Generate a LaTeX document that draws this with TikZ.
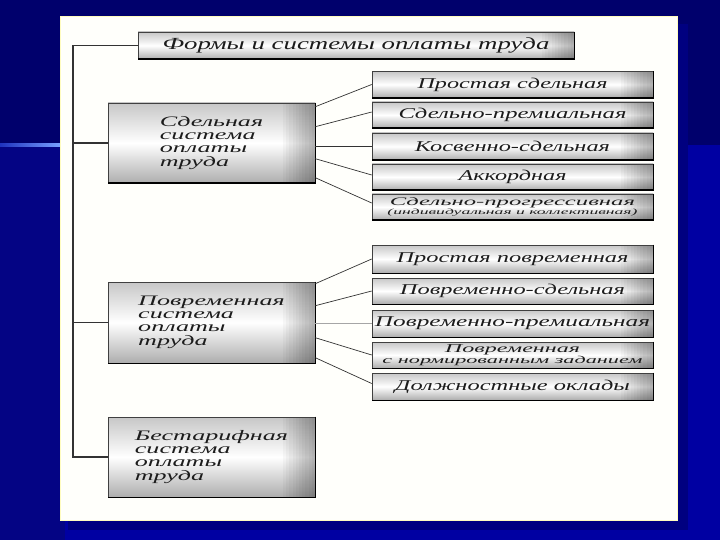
\documentclass[tikz,border=0pt]{standalone}
\usepackage{fontspec}
\setmainfont{Liberation Serif}
\usetikzlibrary{calc}
\definecolor{navytop}{RGB}{0,0,108}
\definecolor{navyleft}{RGB}{4,4,132}
\definecolor{bluebg}{RGB}{0,0,162}
\definecolor{streakL}{RGB}{30,50,190}
\definecolor{streakR}{RGB}{120,160,255}
\definecolor{panelc}{RGB}{255,255,251}
\definecolor{panelshadow}{RGB}{0,0,128}
\definecolor{ink}{RGB}{28,28,28}
\newcommand{\fitw}[2]{\resizebox{#1pt}{\height}{#2}}
\newcommand{\lefttext}[1]{\scalebox{1.8}[1]{\fontsize{14.5}{13}\selectfont\begin{tabular}{@{}l@{}}#1\end{tabular}}}
\tikzset{
  boxs/.style={draw=black!75, line width=0.6pt, top color=black!22, bottom color=black!32,
    middle color=white, inner sep=0pt, text=ink, align=center,
    font=\itshape\fontsize{15}{15}\selectfont,
    path picture={\foreach \k in {1,...,10}{
      \fill[black, opacity=0.03]
      ($(path picture bounding box.north east)+(-3.2*\k,0)$) rectangle (path picture bounding box.south east);}}},
  leftbox/.style={boxs, minimum width=207, minimum height=80},
  rightbox/.style={boxs, minimum width=281, minimum height=26},
  shadowline/.style={line width=1.6pt, black},
  trunk/.style={line width=1.1pt, black!80},
  conn/.style={line width=0.7pt, black!80},
  lightconn/.style={line width=0.6pt, black!35}
}
\begin{document}
\begin{tikzpicture}[x=1pt,y=-1pt]
\useasboundingbox (0,0) rectangle (720,540);
% background
\fill[navytop] (0,0) rectangle (720,540);
\fill[bluebg] (65,145) rectangle (720,540);
\fill[navyleft] (0,146) rectangle (65,540);
\shade[left color=streakL, right color=streakR] (0,143.5) rectangle (60,146.5);
% panel
\fill[panelshadow] (68,24) rectangle (688,530);
\fill[panelc] (60,16) rectangle (677,520);
\draw[yellow!25!white, line width=0.8pt] (60,16) rectangle (677,520);

% boxes
\node[boxs, minimum width=436, minimum height=27] (title) at (356,45.5)
  {\fitw{387}{\fontsize{17}{17}\selectfont Формы и системы оплаты труда}};

\node[leftbox] (sd) at (211.5,143) {\lefttext{Сдельная\\система\\оплаты\\труда}};
\node[leftbox, minimum height=81] (pv) at (211.5,322.5) {\lefttext{Повременная\\система\\оплаты\\труда}};
\node[leftbox] (bt) at (211.5,457) {\lefttext{Бестарифная\\система\\оплаты\\труда}};

\node[rightbox] (r1) at (512.5,84.5) {\fitw{190}{Простая сдельная}};
\node[rightbox] (r2) at (512.5,115) {\fitw{228}{Сдельно-премиальная}};
\node[rightbox, minimum height=27] (r3) at (512.5,146.5) {\fitw{195}{Косвенно-сдельная}};
\node[rightbox] (r4) at (512.5,177) {\fitw{108}{Аккордная}};
\node[rightbox, font=\itshape\fontsize{11.5}{9}\selectfont] (r5) at (512.5,207)
  {\fitw{245}{Сдельно-прогрессивная}\\\fitw{250}{\fontsize{8}{8}\selectfont (индивидуальная и коллективная)}};

\node[rightbox, minimum height=28] (r6) at (512.5,259) {\fitw{232}{Простая повременная}};
\node[rightbox] (r7) at (512.5,291) {\fitw{225}{Повременно-сдельная}};
\node[rightbox, minimum height=27] (r8) at (512.5,323.5) {\fitw{275}{Повременно-премиальная}};
\node[rightbox, font=\itshape\fontsize{12}{8.5}\selectfont] (r9) at (512.5,355)
  {\fitw{135}{Повременная}\\\fitw{260}{\fontsize{10.5}{10.5}\selectfont с нормированным заданием}};
\node[rightbox, minimum height=27] (r10) at (512.5,386.5) {\fitw{235}{Должностные оклады}};

\foreach \n in {title,sd,pv,bt,r1,r2,r3,r4,r5,r6,r7,r8,r9,r10}{
  \draw[shadowline] (\n.north east) -- (\n.south east) -- (\n.south west);
}

% trunk
\coordinate (spine) at (73,0);
\draw[trunk] (title.west) -- (title.west -| spine) -- (bt.west -| spine) -- (bt.west);
\draw[trunk] (sd.west -| spine) -- (sd.west);
\draw[trunk] (pv.west -| spine) -- (pv.west);

% connectors group 1
\draw[conn] ($(sd.north east)+(0,4)$) -- (r1.west);
\draw[conn] ($(sd.north east)+(0,24)$) -- ($(r2.west)+(0,-3)$);
\draw[conn] (sd.east |- r3.west) -- (r3.west);
\draw[conn] ($(sd.north east)+(0,56)$) -- ($(r4.west)+(0,-2)$);
\draw[conn] ($(sd.north east)+(0,75)$) -- ($(r5.west)+(0,-4)$);

% connectors group 2
\draw[conn] ($(pv.north east)+(0,2)$) -- (r6.west);
\draw[conn] ($(pv.north east)+(0,24)$) -- (r7.west);
\draw[lightconn] (pv.east |- r8.west) -- (r8.west);
\draw[conn] ($(pv.north east)+(0,56)$) -- (r9.west);
\draw[conn] ($(pv.north east)+(0,76)$) -- ($(r10.west)+(0,-3)$);
\end{tikzpicture}
\end{document}
